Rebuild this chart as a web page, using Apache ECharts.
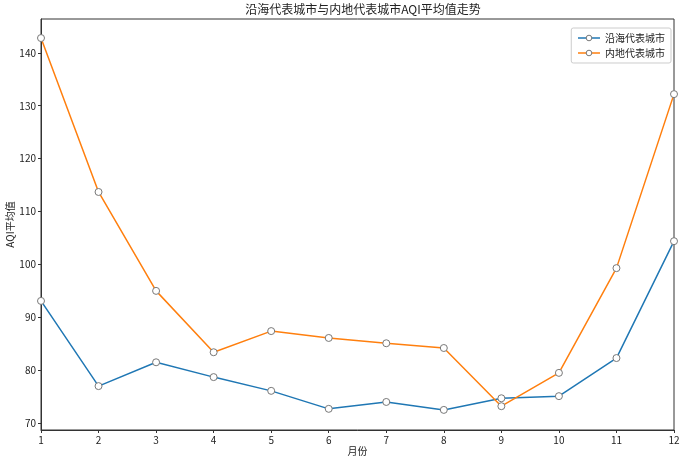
<!DOCTYPE html>
<html>
<head>
<meta charset="utf-8">
<script src="https://cdn.jsdelivr.net/npm/echarts@6/dist/echarts.min.js"></script>
<style>
  html, body { margin: 0; padding: 0; background: #fff; }
  #chart { width: 692px; height: 457px; }
</style>
</head>
<body>
<div id="chart"></div>
<script>
const months = ['1', '2', '3', '4', '5', '6', '7', '8', '9', '10', '11', '12']
const coastal = [93.1, 77.0, 81.5, 78.7, 76.1, 72.7, 74.0, 72.5, 74.7, 75.1, 82.3, 104.4]
const inland = [142.8, 113.7, 95.0, 83.4, 87.4, 86.1, 85.1, 84.2, 73.2, 79.5, 99.3, 132.2]
const yTicks = [70, 80, 90, 100, 110, 120, 130, 140]

const font = '"Noto Sans CJK SC", "DejaVu Sans", sans-serif'
const ink = '#222'

const chart = echarts.init(document.getElementById('chart'))

const lineSeries = (name, data, color) => ({
  name,
  type: 'line',
  data,
  symbol: 'circle',
  symbolSize: 7,
  lineStyle: { color, width: 1.5 },
  itemStyle: { color: '#fff', borderColor: '#777', borderWidth: 1 },
  emphasis: { disabled: true },
  animation: false
})

chart.setOption({
  textStyle: { fontFamily: font },
  title: {
    text: '沿海代表城市与内地代表城市AQI平均值走势',
    left: 358,
    textAlign: 'center',
    top: -2,
    textStyle: { fontSize: 12, fontWeight: 'normal', color: ink, fontFamily: font }
  },
  legend: {
    right: 21,
    top: 28,
    orient: 'vertical',
    itemWidth: 22,
    itemHeight: 7,
    itemGap: 5,
    padding: [5, 6, 5, 6],
    borderColor: '#ccc',
    borderWidth: 1,
    borderRadius: 2,
    itemStyle: { borderWidth: 1 },
    lineStyle: { width: 1.5 },
    textStyle: { fontSize: 10, color: ink, fontFamily: font },
    data: ['沿海代表城市', '内地代表城市']
  },
  grid: {
    left: 41, right: 18, top: 19, bottom: 27,
    outerBoundsMode: 'none',
    containLabel: false,
    show: true, borderColor: '#333', borderWidth: 1
  },
  xAxis: {
    type: 'category',
    data: months,
    boundaryGap: false,
    name: '月份',
    nameLocation: 'middle',
    nameGap: 16,
    nameMoveOverlap: false,
    nameTextStyle: { fontSize: 10, color: ink },
    axisLine: { lineStyle: { color: '#333' } },
    axisTick: { length: 3, lineStyle: { color: '#333' } },
    axisLabel: { fontSize: 10, color: ink, margin: 5 },
    splitLine: { show: false }
  },
  yAxis: {
    type: 'value',
    min: 68.7,
    max: 146.4,
    name: 'AQI平均值',
    nameLocation: 'middle',
    nameGap: 26,
    nameMoveOverlap: false,
    nameTextStyle: { fontSize: 10, color: ink },
    axisLine: { show: true, lineStyle: { color: '#333' } },
    axisTick: { show: true, length: 3, customValues: yTicks, lineStyle: { color: '#333' } },
    axisLabel: { fontSize: 10, color: ink, margin: 5, customValues: yTicks },
    splitLine: { show: false }
  },
  series: [
    lineSeries('沿海代表城市', coastal, '#1f77b4'),
    lineSeries('内地代表城市', inland, '#ff7f0e')
  ]
})
</script>
</body>
</html>
